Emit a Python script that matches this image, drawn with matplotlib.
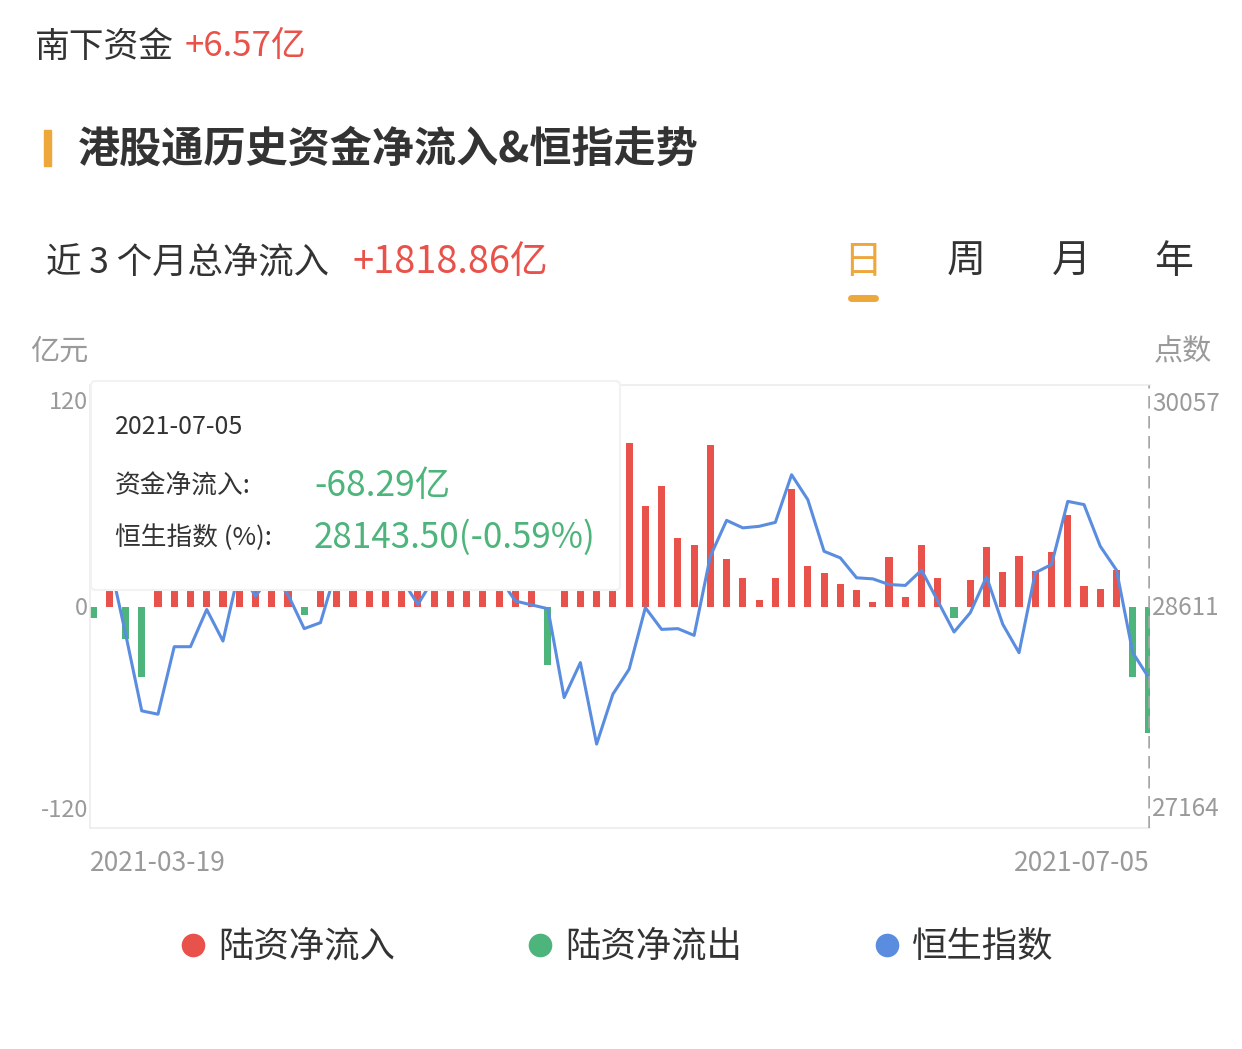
import matplotlib
matplotlib.use("Agg")
import matplotlib.pyplot as plt
import numpy as np
from matplotlib.lines import Line2D
from matplotlib.patches import Rectangle, FancyBboxPatch

plt.rcParams['font.family'] = ['Noto Sans CJK SC', 'DejaVu Sans']

# net southbound flow per trading day (亿元), 2021-03-19 .. 2021-07-05
net_flow = [
    -6.0, 35.0, -17.5, -38.0, 25.0, 48.0, 30.0, 22.0, 55.0, 40.0,
    18.0, 33.0, 27.0, -4.4, 45.0, 38.0, 62.0, 30.0, 50.0, 28.0,
    72.0, 41.0, 35.0, 58.0, 24.0, 46.0, 39.0, 52.0, -31.7, 44.0,
    36.0, 60.0, 9.7, 88.5, 54.3, 65.2, 37.0, 33.2, 87.4, 25.7,
    15.5, 3.3, 15.5, 63.9, 22.2, 17.9, 12.4, 8.7, 2.4, 26.6,
    5.1, 33.3, 15.7, -6.5, 14.2, 32.1, 18.7, 27.5, 19.3, 29.7,
    49.7, 10.9, 9.7, 19.7, -38.3, -68.29,
]

# Hang Seng index close
hsi = [
    29178, 28917, 28435, 27929, 27907, 28348, 28348, 28591, 28385, 28850,
    28678, 28820, 28689, 28466, 28505, 28860, 28950, 29010, 28900, 28790,
    28624, 28800, 28940, 29050, 28960, 28800, 28646, 28621, 28596, 28016,
    28244, 27712, 28038, 28201, 28603, 28461, 28466, 28422, 28939, 29173,
    29124, 29134, 29160, 29471, 29308, 28971, 28928, 28798, 28791, 28754,
    28748, 28848, 28646, 28444, 28570, 28805, 28494, 28309, 28831, 28885,
    29297, 29276, 29004, 28848, 28309, 28143.5,
]

date_labels = ['2021-03-19', '2021-07-05']
left_ticks = [120, 0, -120]
right_ticks = [30057, 28611, 27164]
legend_labels = ['陆资净流入', '陆资净流出', '恒生指数']

RED = '#e9524a'
GREEN = '#4db57b'
BLUE = '#5a8de0'
ORANGE = '#eea73b'
DARK = '#333333'
GRAY = '#9a9a9a'

W, H = 1242, 1049
fig = plt.figure(figsize=(W / 100, H / 100), dpi=100)


def fx(x):
    return x / W


def fy(y):
    return 1 - y / H


# header texts
fig.text(fx(35), fy(47), '南下资金', fontsize=25, color=DARK, va='center')
fig.text(fx(185), fy(47), '+6.57亿', fontsize=25, color=RED, va='center')

fig.patches.append(Rectangle((fx(44), fy(166)), fx(7), 36 / H,
                             transform=fig.transFigure, color=ORANGE))
fig.text(fx(78), fy(150), '港股通历史资金净流入&恒指走势', fontsize=30.3,
         fontweight='bold', color=DARK, va='center')

fig.text(fx(46), fy(262), '近 3 个月总净流入', fontsize=25.5, color=DARK, va='center')
fig.text(fx(353), fy(262), '+1818.86亿', fontsize=27.3, color=RED, va='center')

for label, x, c in [('日', 863, ORANGE), ('周', 966, DARK), ('月', 1071, DARK), ('年', 1174, DARK)]:
    fig.text(fx(x), fy(262), label, fontsize=28, color=c, ha='center', va='center')
fig.lines.append(Line2D([fx(851), fx(875)], [fy(298), fy(298)], transform=fig.transFigure,
                        color=ORANGE, lw=5, solid_capstyle='round'))

fig.text(fx(30), fy(352), '亿元', fontsize=21, color=GRAY, va='center')
fig.text(fx(1212), fy(352), '点数', fontsize=21, color=GRAY, va='center', ha='right')

# main chart
L, R, T, B = 90, 1150, 385, 828
ax = fig.add_axes([fx(L), fy(B), (R - L) / W, (B - T) / H])
n = len(net_flow)
x = np.arange(n)
step = (1149 - 93) / (n - 1)
ax.set_xlim(-(93 - L) / step, n - 1 + (R - 1149) / step)
ax.set_ylim(-120, 120)

colors = [RED if v >= 0 else GREEN for v in net_flow]
ax.bar(x, net_flow, width=0.44, color=colors, zorder=2)

for s in ['left', 'top', 'bottom']:
    ax.spines[s].set_color('#ececec')
    ax.spines[s].set_linewidth(1.2)
ax.spines['right'].set_visible(False)
ax.set_xticks([])
ax.set_yticks([])

ax2 = ax.twinx()
ax2.set_ylim(27164, 30057)
ax2.plot(x, hsi, color=BLUE, lw=2.2, zorder=3)
ax2.axvline(n - 1, color='#a6a6a6', lw=1.8, ls=(0, (5, 3)), zorder=4)
for s in ax2.spines.values():
    s.set_visible(False)
ax2.set_yticks([])

# tick labels
tr_left = ax.get_yaxis_transform()
for v, va, dy in zip(left_ticks, ['top', 'center', 'bottom'], [-6, -2, 6]):
    ax.annotate(str(v), xy=(0, v), xycoords=tr_left, xytext=(-2, dy),
                textcoords='offset pixels', ha='right', va=va, fontsize=17, color=GRAY)
tr_right = ax2.get_yaxis_transform()
for v, va, dy in zip(right_ticks, ['top', 'center', 'bottom'], [-6, -2, 6]):
    ax2.annotate(str(v), xy=(1, v), xycoords=tr_right, xytext=(2, dy),
                 textcoords='offset pixels', ha='left', va=va, fontsize=17.5, color=GRAY)

ax.annotate(date_labels[0], xy=(0, 0), xycoords='axes fraction', xytext=(0, -22),
            textcoords='offset pixels', ha='left', va='top', fontsize=19, color=GRAY)
ax.annotate(date_labels[1], xy=(1, 0), xycoords='axes fraction', xytext=(0, -22),
            textcoords='offset pixels', ha='right', va='top', fontsize=19, color=GRAY)

# tooltip
tip = FancyBboxPatch((fx(91), fy(590)), fx(620 - 91), (590 - 381) / H,
                     boxstyle='round,pad=0,rounding_size=0.004',
                     transform=fig.transFigure, facecolor='white',
                     edgecolor='#f2f2f2', lw=1.5, zorder=5)
fig.patches.append(tip)
fig.text(fx(115), fy(427), '2021-07-05', fontsize=18, color=DARK, va='center', zorder=6)
fig.text(fx(115), fy(486), '资金净流入:', fontsize=18.5, color=DARK, va='center', zorder=6)
fig.text(fx(115), fy(538), '恒生指数 (%):', fontsize=18.5, color=DARK, va='center', zorder=6)
fig.text(fx(314), fy(486), f'{net_flow[-1]:.2f}亿', fontsize=25.5, color=GREEN, va='center', zorder=6)
fig.text(fx(314), fy(538), f'{hsi[-1]:.2f}(-0.59%)', fontsize=25.2, color=GREEN, va='center', zorder=6)

# legend
handles = [Line2D([], [], ls='none', marker='o', markersize=17, color=c, markeredgewidth=0)
           for c in [RED, GREEN, BLUE]]
fig.legend(handles, legend_labels, loc='center', bbox_to_anchor=(fx(617), fy(947)),
           ncol=3, frameon=False, fontsize=25.5, handlelength=0.7, handletextpad=0.35,
           columnspacing=3.75, labelcolor=DARK)

fig.savefig('out.png', dpi=100, facecolor='white')
